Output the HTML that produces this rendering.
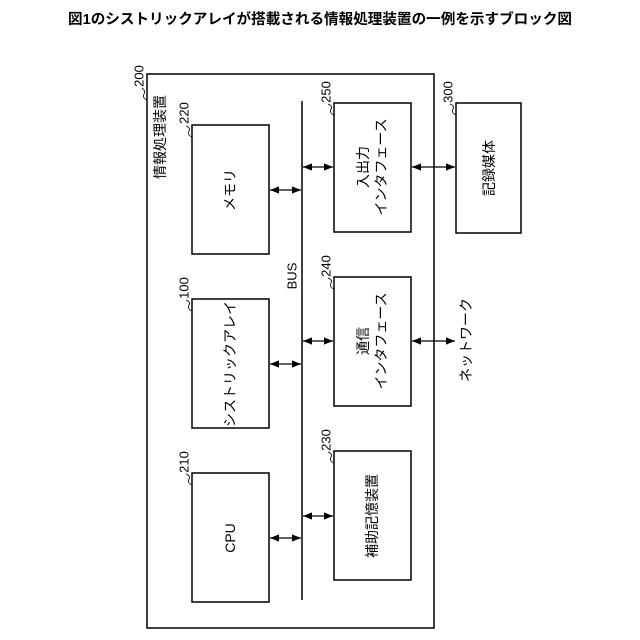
<!DOCTYPE html>
<html><head><meta charset="utf-8"><style>
html,body{margin:0;padding:0;background:#fff;}
svg{display:block;font-family:"Liberation Sans","Noto Sans CJK JP",sans-serif;}
</style></head><body>
<svg width="640" height="640" viewBox="0 0 640 640" xmlns="http://www.w3.org/2000/svg">
<defs>
<marker id="a" viewBox="0 0 10 10" refX="10" refY="5" markerWidth="7" markerHeight="7" orient="auto-start-reverse"><path d="M0,1 L10,5 L0,9 z" fill="#000"/></marker>
</defs>
<text x="320" y="24" font-size="14.5" font-weight="bold" text-anchor="middle" textLength="504" lengthAdjust="spacingAndGlyphs">図1のシストリックアレイが搭載される情報処理装置の一例を示すブロック図</text>
<g fill="none" stroke="#000" stroke-width="1.5">
<rect x="147" y="74" width="287" height="554"/>
<line x1="302" y1="101" x2="302" y2="600"/>
<rect x="192" y="125" width="77" height="129"/>
<rect x="192" y="299" width="77" height="129"/>
<rect x="192" y="473" width="77" height="129"/>
<rect x="334" y="103" width="77" height="129"/>
<rect x="334" y="277" width="77" height="129"/>
<rect x="334" y="451" width="77" height="129"/>
<rect x="456" y="103" width="65" height="130"/>
</g>
<g stroke="#000" stroke-width="1.3" marker-start="url(#a)" marker-end="url(#a)">
<line x1="270" y1="190" x2="301" y2="190"/>
<line x1="270" y1="364" x2="301" y2="364"/>
<line x1="270" y1="538" x2="301" y2="538"/>
<line x1="303" y1="167" x2="333" y2="167"/>
<line x1="303" y1="341" x2="333" y2="341"/>
<line x1="303" y1="516" x2="333" y2="516"/>
<line x1="412" y1="167" x2="455" y2="167"/>
<line x1="412" y1="341" x2="455" y2="341"/>
</g>
<g fill="none" stroke="#000" stroke-width="0.8">
<path d="M147,100 q-5,-2 -3,-6 q2,-3 -2,-6"/>
<path d="M192,137 q-5,-2 -3,-6 q2,-3 -3,-5"/>
<path d="M192,311 q-5,-2 -3,-6 q2,-3 -3,-5"/>
<path d="M192,485 q-5,-2 -3,-6 q2,-3 -3,-5"/>
<path d="M334,115 q-5,-2 -3,-6 q2,-3 -3,-5"/>
<path d="M334,289 q-5,-2 -3,-6 q2,-3 -3,-5"/>
<path d="M334,463 q-5,-2 -3,-6 q2,-3 -3,-5"/>
<path d="M456,115 q-5,-2 -3,-6 q2,-3 -3,-5"/>
</g>
<g font-size="13" dominant-baseline="central" text-anchor="middle">
<text transform="translate(139,76) rotate(-90)">200</text>
<text transform="translate(160,137) rotate(-90)" font-size="14">情報処理装置</text>
<text transform="translate(184,113) rotate(-90)">220</text>
<text transform="translate(184,288) rotate(-90)">100</text>
<text transform="translate(184,462) rotate(-90)">210</text>
<text transform="translate(326,92) rotate(-90)">250</text>
<text transform="translate(326,266) rotate(-90)">240</text>
<text transform="translate(326,440) rotate(-90)">230</text>
<text transform="translate(448,92) rotate(-90)">300</text>
<text transform="translate(292,276) rotate(-90)">BUS</text>
<g font-size="14">
<text transform="translate(230,190) rotate(-90)">メモリ</text>
<text transform="translate(230,364) rotate(-90)">シストリックアレイ</text>
<text transform="translate(230,538) rotate(-90)">CPU</text>
<text transform="translate(363,167) rotate(-90)">入出力</text>
<text transform="translate(381,167) rotate(-90)">インタフェース</text>
<text transform="translate(363,341) rotate(-90)">通信</text>
<text transform="translate(381,341) rotate(-90)">インタフェース</text>
<text transform="translate(372,516) rotate(-90)">補助記憶装置</text>
<text transform="translate(489,168) rotate(-90)">記録媒体</text>
<text transform="translate(466,340) rotate(-90)">ネットワーク</text>
</g>
</g>
</svg>
</body></html>
